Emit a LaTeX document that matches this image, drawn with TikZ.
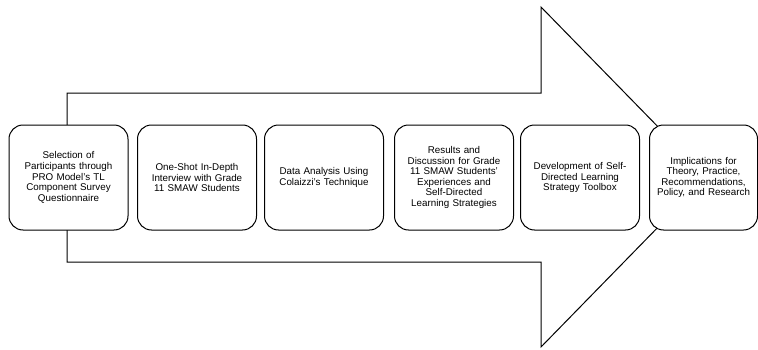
\documentclass[tikz,border=0pt]{standalone}
\usepackage{fontspec}
\setmainfont{Liberation Sans}
\usepackage{tikz}

\begin{document}
\begin{tikzpicture}
		[x=1pt,y=1pt,
		stage/.style={font=\fontsize{9.8}{10.6}\selectfont,align=center,text width=112pt,minimum width=119pt,minimum height=105pt,rounded corners=14pt,line width=1pt,draw=black,fill=white,inner sep=1pt}]

		\useasboundingbox (0,0) rectangle (758,349);

		% big arrow behind the stages
		\draw[line width=1pt,line join=miter] (67,256) -- (541,256) -- (541,342) -- (707,172) -- (541,2) -- (541,87) -- (67,87) -- cycle;

		\node[stage] (s1) at ( 68.5,171.5) {Selection of\\ Participants through\\ PRO Model's TL\\ Component Survey\\ Questionnaire};

		\node[stage] (s2) at (197,171.5) {One-Shot In-Depth\\ Interview with Grade\\ 11 SMAW Students};

		\node[stage] (s3) at (324,171.5) {Data Analysis Using\\ Colaizzi's Technique};

		\node[stage] (s4) at (454,171.5) {Results and\\ Discussion for Grade\\ 11 SMAW Students'\\ Experiences and\\ Self-Directed\\ Learning Strategies};

		\node[stage] (s5) at (580,171.5) {Development of Self-\\ Directed Learning\\ Strategy Toolbox};

		\node[stage,minimum width=108pt,text width=106pt] (s6) at (703.5,171.5) {Implications for\\ Theory, Practice,\\ Recommendations,\\ Policy, and Research};
\end{tikzpicture}
\end{document}
